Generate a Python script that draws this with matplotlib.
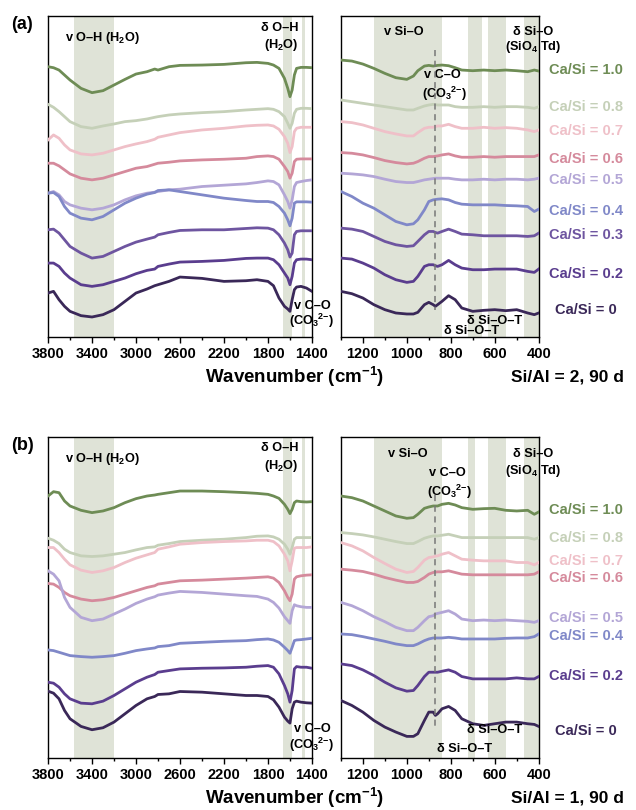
import numpy as np
import matplotlib
matplotlib.use("Agg")
import matplotlib.pyplot as plt
import matplotlib.transforms as mtransforms

plt.rcParams['font.family'] = ['Liberation Sans', 'DejaVu Sans']
plt.rcParams['font.weight'] = 'bold'
plt.rcParams['mathtext.fontset'] = 'custom'
plt.rcParams['mathtext.rm'] = 'Liberation Sans:bold'
plt.rcParams['mathtext.bf'] = 'Liberation Sans:bold'
plt.rcParams['mathtext.default'] = 'bf'

# ---- data (arbitrary stacked intensity units) ----
wn_oh = [3800, 3750, 3700, 3650, 3600, 3500, 3400, 3300, 3200, 3100, 3000, 2900, 2830, 2800,
         2700, 2600, 2400, 2200, 2000, 1900, 1800, 1750, 1700, 1650, 1620, 1600, 1580, 1560,
         1540, 1500, 1450, 1400]
wn_si = [1300, 1250, 1200, 1150, 1100, 1050, 1000, 970, 950, 920, 900, 880, 870, 860, 840,
         810, 780, 750, 700, 650, 600, 550, 500, 450, 420, 400]

ratios_a = ['1.0', '0.8', '0.7', '0.6', '0.5', '0.4', '0.3', '0.2', '0']
ratios_b = ['1.0', '0.8', '0.7', '0.6', '0.5', '0.4', '0.2', '0']

colors = {'1.0': '#6e8c55', '0.8': '#c5d0b8', '0.7': '#efc0c8', '0.6': '#d58a9c',
          '0.5': '#b3a6d6', '0.4': '#8088c8', '0.3': '#6e55a0', '0.2': '#5a3d8e',
          '0': '#3a2858'}

# panel (a), Si/Al = 2 -- values given as depth from the top of the frame
a_oh = [
    [200, 203, 210, 225, 240, 265, 278, 272, 255, 238, 222, 215, 207, 210, 200, 196, 195, 193, 188, 187, 190, 195, 205, 235, 265, 290, 270, 225, 205, 202, 202, 203],
    [313, 322, 335, 350, 365, 380, 385, 378, 372, 365, 362, 357, 352, 350, 345, 342, 338, 335, 330, 328, 326, 328, 335, 350, 370, 385, 370, 340, 328, 325, 325, 326],
    [420, 405, 415, 435, 450, 462, 465, 460, 450, 440, 432, 425, 418, 412, 405, 398, 390, 385, 378, 376, 375, 378, 388, 410, 430, 458, 440, 395, 385, 382, 382, 382],
    [490, 490, 498, 510, 522, 535, 540, 535, 525, 515, 505, 500, 493, 490, 487, 483, 480, 478, 475, 470, 468, 470, 478, 500, 515, 535, 520, 485, 478, 477, 477, 477],
    [580, 575, 585, 605, 615, 625, 630, 625, 615, 600, 588, 580, 577, 575, 570, 568, 560, 556, 552, 548, 543, 545, 555, 585, 605, 625, 600, 560, 548, 545, 542, 540],
    [580, 578, 590, 620, 640, 655, 660, 650, 630, 610, 595, 583, 578, 572, 570, 575, 585, 595, 602, 605, 605, 608, 620, 640, 660, 678, 655, 610, 606, 606, 606, 607],
    [690, 688, 700, 720, 740, 760, 775, 770, 755, 740, 727, 718, 712, 705, 698, 692, 690, 690, 686, 684, 685, 690, 705, 730, 750, 772, 760, 705, 695, 693, 693, 693],
    [790, 790, 800, 820, 835, 855, 860, 855, 845, 835, 822, 812, 808, 800, 793, 787, 785, 782, 776, 775, 775, 780, 795, 820, 835, 855, 830, 790, 780, 778, 778, 780],
    [880, 875, 900, 920, 935, 948, 952, 945, 930, 905, 880, 868, 858, 855, 845, 832, 836, 845, 843, 840, 845, 858, 895, 920, 928, 935, 900, 870, 862, 860, 865, 875],
]
a_si = [
    [180, 183, 192, 205, 220, 233, 238, 228, 212, 198, 196, 198, 197, 196, 195, 197, 203, 210, 212, 210, 212, 210, 212, 215, 210, 213],
    [300, 305, 310, 315, 320, 325, 330, 330, 325, 318, 315, 313, 314, 315, 315, 315, 320, 322, 322, 320, 322, 320, 320, 322, 325, 320],
    [365, 368, 375, 385, 395, 402, 408, 408, 398, 385, 382, 382, 380, 378, 378, 373, 380, 385, 385, 382, 385, 383, 385, 390, 395, 390],
    [458, 460, 465, 473, 482, 488, 492, 490, 485, 475, 470, 470, 469, 468, 465, 462, 468, 472, 472, 470, 472, 470, 470, 470, 470, 465],
    [520, 522, 525, 530, 538, 545, 548, 548, 545, 540, 538, 536, 535, 535, 535, 535, 538, 540, 540, 538, 540, 538, 538, 540, 538, 535],
    [575, 590, 610, 625, 645, 665, 675, 672, 660, 630, 605, 600, 599, 598, 597, 600, 608, 613, 615, 615, 615, 617, 618, 620, 635, 628],
    [685, 688, 695, 710, 725, 735, 740, 738, 725, 705, 695, 695, 698, 700, 695, 688, 695, 703, 705, 708, 708, 708, 708, 710, 708, 700],
    [775, 778, 790, 805, 825, 840, 848, 845, 830, 800, 795, 795, 798, 800, 795, 782, 795, 805, 810, 810, 808, 808, 808, 815, 818, 808],
    [875, 882, 895, 915, 930, 940, 943, 943, 938, 915, 908, 915, 920, 915, 905, 888, 900, 925, 935, 932, 930, 933, 930, 940, 945, 940],
]
label_depth_a = [210, 320, 392, 477, 540, 633, 707, 822, 930]

# panel (b), Si/Al = 1
b_oh = [
    [285, 272, 275, 300, 315, 328, 335, 330, 320, 305, 293, 285, 282, 280, 275, 270, 270, 272, 275, 277, 280, 285, 292, 310, 325, 338, 325, 305, 300, 302, 303, 302],
    [412, 418, 428, 445, 455, 465, 467, 465, 460, 455, 447, 440, 438, 433, 428, 422, 418, 415, 410, 406, 405, 408, 415, 430, 445, 460, 440, 415, 410, 410, 410, 410],
    [440, 440, 455, 475, 492, 508, 515, 510, 500, 485, 472, 462, 455, 445, 438, 430, 425, 422, 420, 418, 418, 422, 435, 460, 480, 510, 480, 442, 440, 440, 440, 438],
    [548, 550, 560, 575, 585, 595, 600, 597, 590, 580, 570, 560, 555, 550, 545, 540, 538, 535, 532, 530, 528, 532, 545, 570, 590, 600, 580, 535, 528, 525, 523, 522],
    [510, 520, 540, 590, 620, 650, 660, 655, 640, 625, 608, 595, 588, 583, 577, 572, 575, 580, 585, 587, 595, 605, 622, 648, 660, 668, 630, 612, 615, 618, 620, 620],
    [748, 750, 755, 760, 765, 768, 770, 768, 765, 758, 750, 745, 742, 738, 735, 728, 725, 722, 720, 717, 715, 718, 725, 740, 750, 758, 740, 720, 718, 717, 715, 713],
    [845, 848, 860, 880, 895, 908, 910, 902, 885, 865, 845, 830, 822, 815, 810, 805, 803, 802, 800, 797, 795, 800, 820, 855, 880, 905, 870, 805, 798, 800, 800, 803],
    [872, 878, 895, 930, 955, 978, 988, 982, 965, 940, 915, 895, 888, 882, 880, 873, 875, 880, 885, 885, 888, 898, 920, 950, 962, 968, 925, 905, 902, 905, 907, 908],
]
b_si = [
    [285, 290, 300, 315, 330, 345, 352, 350, 340, 322, 318, 315, 315, 315, 310, 307, 312, 320, 325, 323, 322, 328, 330, 328, 340, 333],
    [395, 398, 402, 408, 415, 422, 428, 428, 422, 412, 408, 405, 405, 405, 403, 400, 405, 410, 410, 410, 410, 410, 410, 410, 415, 410],
    [425, 435, 450, 470, 488, 505, 515, 512, 500, 478, 470, 468, 466, 465, 460, 455, 465, 475, 478, 480, 480, 480, 485, 485, 492, 485],
    [505, 508, 512, 520, 530, 538, 545, 545, 542, 530, 520, 515, 514, 513, 513, 510, 515, 520, 522, 522, 522, 522, 522, 522, 520, 513],
    [605, 615, 630, 648, 663, 680, 690, 690, 680, 660, 648, 645, 640, 638, 635, 630, 640, 655, 660, 658, 660, 658, 660, 662, 665, 660],
    [700, 702, 708, 715, 722, 730, 735, 735, 730, 720, 715, 712, 712, 712, 712, 710, 712, 715, 715, 715, 715, 713, 712, 712, 708, 700],
    [790, 795, 808, 825, 845, 862, 872, 870, 855, 828, 815, 815, 815, 815, 812, 808, 815, 828, 835, 835, 835, 835, 832, 835, 835, 828],
    [900, 915, 935, 960, 980, 995, 1008, 1008, 1000, 960, 935, 935, 945, 940, 925, 918, 930, 955, 970, 975, 970, 965, 965, 970, 972, 978],
]
label_depth_b = [327, 410, 480, 533, 652, 705, 825, 992]

# frame extent in the same depth units: (top, bottom)
frame_a = (47, 1012)
frame_b = (107, 1073)

oh_bands = [(3560, 3200), (1660, 1580), (1495, 1465)]
si_bands_a = [(1150, 840), (720, 660), (630, 550), (465, 400)]
si_bands_b = [(1150, 840), (720, 690), (630, 550), (465, 400)]
shade = '#dfe3d7'

fig = plt.figure(figsize=(6.36, 8.10), dpi=100)

CO3 = '(CO$_3$$^{2{-}}$)'


def to_h(vals, frame):
    return (frame[1] - np.array(vals, dtype=float)) / 3.0


def style_axes(ax, xlim, major, minor, frame):
    ax.set_xlim(*xlim)
    ax.set_ylim(0, (frame[1] - frame[0]) / 3.0)
    ax.set_yticks([])
    ax.set_xticks(major)
    ax.set_xticks(minor, minor=True)
    ax.tick_params(axis='x', which='major', direction='out', length=4, width=1, labelsize=10.5, pad=3)
    ax.tick_params(axis='x', which='minor', direction='out', length=2.5, width=1)
    for lab in ax.get_xticklabels():
        lab.set_fontweight('bold')
    for sp in ax.spines.values():
        sp.set_linewidth(1)


def draw_panel(bottom, tag, ratios, oh, si, label_depth, frame, si_bands, ann, salt):
    h = 0.3965
    ax1 = fig.add_axes([0.0755, bottom, 0.415, h])
    ax2 = fig.add_axes([0.536, bottom, 0.311, h])

    for lo, hi in oh_bands:
        ax1.axvspan(lo, hi, color=shade, lw=0, zorder=0)
    for lo, hi in si_bands:
        ax2.axvspan(lo, hi, color=shade, lw=0, zorder=0)

    for r, yv in zip(ratios, oh):
        ax1.plot(wn_oh, to_h(yv, frame), color=colors[r], lw=2.0, zorder=3)
    for r, yv in zip(ratios, si):
        ax2.plot(wn_si, to_h(yv, frame), color=colors[r], lw=2.0, zorder=3)

    style_axes(ax1, (3800, 1400), np.arange(3800, 1399, -400), np.arange(3800, 1399, -200), frame)
    style_axes(ax2, (1300, 400), np.arange(1200, 399, -200), np.arange(1300, 399, -100), frame)

    # dashed carbonate line
    ax2.plot([873, 873], to_h(ann['dash'], frame), color='#777777', lw=1.1,
             dashes=(4, 3), zorder=4)

    fs = 9.2
    ax1.text(3309, to_h(ann['oh'], frame), 'v O–H (H$_2$O)', ha='center', va='center', fontsize=fs)
    ax1.text(1694, to_h(ann['doh'][0], frame), 'δ O–H', ha='center', va='center', fontsize=fs)
    ax1.text(1680, to_h(ann['doh'][1], frame), '(H$_2$O)', ha='center', va='center', fontsize=fs)
    tr1 = mtransforms.blended_transform_factory(ax1.transAxes, ax1.transData)
    ax1.text(1.0, to_h(ann['co_l'][0], frame), 'v C–O', transform=tr1, ha='center', va='center',
             fontsize=fs, zorder=6, clip_on=False)
    ax1.text(1.0, to_h(ann['co_l'][1], frame), CO3, transform=tr1, ha='center', va='center',
             fontsize=fs, zorder=6, clip_on=False)

    ax2.text(ann['sio_x'], to_h(ann['sio'], frame), 'v Si–O', ha='center', va='center', fontsize=fs)
    ax2.text(426, to_h(ann['dsio'][0], frame), 'δ Si–O', ha='center', va='center', fontsize=fs, clip_on=False)
    ax2.text(426, to_h(ann['dsio'][1], frame), '(SiO$_4$ Td)', ha='center', va='center', fontsize=fs, clip_on=False)
    ax2.text(ann['co_x'], to_h(ann['co_r'][0], frame), 'v C–O', ha='center', va='center', fontsize=fs)
    ax2.text(ann['co_x'] - 8, to_h(ann['co_r'][1], frame), CO3, ha='center', va='center', fontsize=fs)
    ax2.text(600, to_h(ann['sot'][0], frame), 'δ Si–O–T', ha='center', va='center', fontsize=fs, zorder=6)
    ax2.text(ann['sot_x'], to_h(ann['sot'][1], frame), 'δ Si–O–T', ha='center', va='center', fontsize=fs,
             zorder=6, clip_on=False)

    tr2 = mtransforms.blended_transform_factory(ax2.transAxes, ax2.transData)
    for r, d in zip(ratios, label_depth):
        ax2.text(1.24, to_h(d, frame), 'Ca/Si = ' + r, transform=tr2, ha='center', va='center',
                 fontsize=10.5, color=colors[r], clip_on=False)

    fig.text(0.018, bottom + h - 0.011, tag, fontsize=13, ha='left', va='center')
    fig.text(0.463, bottom - 0.0495, 'Wavenumber (cm$^{-1}$)', fontsize=13.5, ha='center', va='center')
    fig.text(0.892, bottom - 0.0495, salt, fontsize=12.5, ha='center', va='center')


ann_a = dict(dash=(150, 930), oh=115, doh=(85, 135), co_l=(920, 965), sio=95, sio_x=1013,
             dsio=(95, 140), co_x=837, co_r=(225, 282), sot=(965, 995), sot_x=706)
ann_b = dict(dash=(283, 990), oh=175, doh=(140, 195), co_l=(985, 1035), sio=160, sio_x=997,
             dsio=(160, 210), co_x=815, co_r=(215, 272), sot=(990, 1045), sot_x=736)

draw_panel(0.584, '(a)', ratios_a, a_oh, a_si, label_depth_a, frame_a, si_bands_a, ann_a, 'Si/Al = 2, 90 d')
draw_panel(0.0642, '(b)', ratios_b, b_oh, b_si, label_depth_b, frame_b, si_bands_b, ann_b, 'Si/Al = 1, 90 d')

fig.savefig('out.png', dpi=100)
